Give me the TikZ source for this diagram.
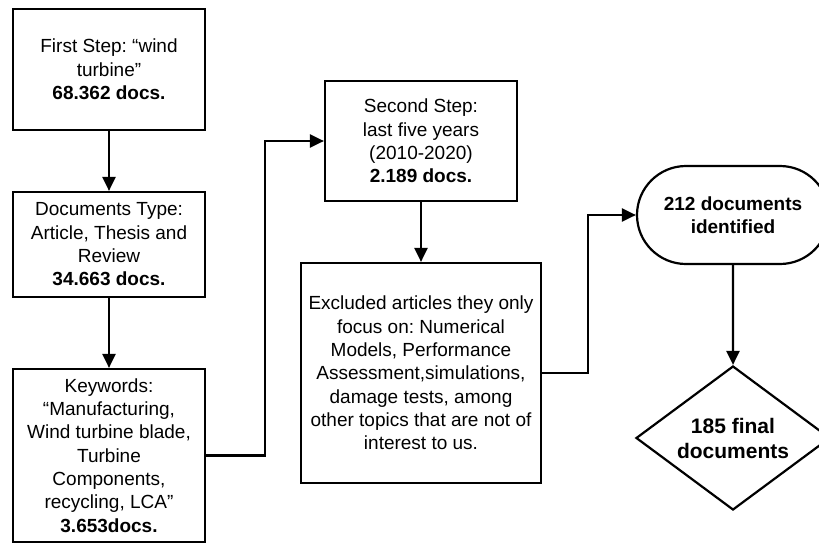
\documentclass[tikz,border=0pt]{standalone}
\usepackage{fontspec}
\setmainfont{Liberation Sans}
\frenchspacing
\usetikzlibrary{arrows.meta, positioning, shapes.geometric, shapes.misc}

\begin{document}
\begin{tikzpicture}[x=1pt,y=-1pt]

\tikzset{stepbox/.style = {shape=rectangle,draw,line width=2.2pt,align=center,inner sep=2pt,
  font=\fontsize{19}{23.3}\selectfont}}
\tikzset{edge/.style = {->,line width=2.2pt,> = {Triangle[length=14pt,width=13pt]}}}
\useasboundingbox (0,0) rectangle (819,544);
% vertices
\node[stepbox, minimum width=192, minimum height=121] (first) at (109,69.5) {First Step: ``wind\\turbine''\\\textbf{68.362 docs.}};
\node[stepbox, minimum width=192, minimum height=105] (type) at (109,244.5) {Documents Type:\\Article, Thesis and\\Review\\\textbf{34.663 docs.}};
\node[stepbox, minimum width=192, minimum height=173] (keywords) at (109,455.5) {Keywords:\\``Manufacturing,\\Wind turbine blade,\\Turbine\\Components,\\recycling, LCA''\\\textbf{3.653docs.}};
\node[stepbox, minimum width=192, minimum height=120] (second) at (421,141) {Second Step:\\last five years\\(2010-2020)\\\textbf{2.189 docs.}};
\node[stepbox, minimum width=240, minimum height=220] (excluded) at (421,373) {Excluded articles they only\\focus on: Numerical\\Models, Performance\\Assessment,simulations,\\damage tests, among\\other topics that are not of\\interest to us.};
\node[stepbox, shape=rounded rectangle, minimum width=196, minimum height=98, font=\fontsize{19}{23.3}\selectfont\bfseries] (identified) at (733,215) {212 documents\\identified};
\node[stepbox, shape=diamond, shape aspect=1.35, inner sep=0pt, minimum width=194, minimum height=144, font=\fontsize{21}{25}\selectfont\bfseries] (final) at (733,438) {185 final\\documents};
\coordinate (bend1) at (265,455.5);
\coordinate (bend2) at (588,373);
%edges
\draw [edge] (first) -- (type);
\draw [edge] (type) -- (keywords);
\draw [edge] (keywords.east) -- (bend1) |- (second.west);
\draw [edge] (second) -- (excluded);
\draw [edge] (excluded.east) -- (bend2) |- (identified.west);
\draw [edge] (identified) -- (final);
\end{tikzpicture}
\end{document}
